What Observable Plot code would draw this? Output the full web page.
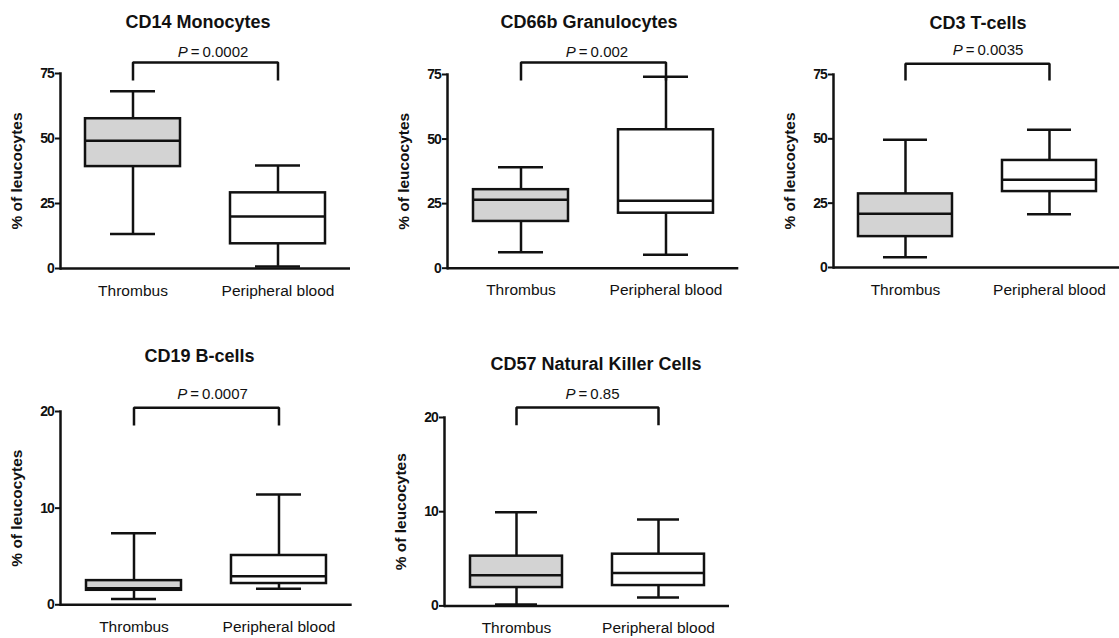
<!DOCTYPE html>
<html>
<head>
<meta charset="utf-8">
<script src="https://cdn.jsdelivr.net/npm/d3@7"></script>
<script src="https://cdn.jsdelivr.net/npm/@observablehq/plot@0.6"></script>
<style>
  html, body { margin: 0; padding: 0; background: #fff; overflow: hidden; }
  #chart { position: relative; width: 1119px; height: 638px; font-family: "Liberation Sans", Arial, Helvetica, sans-serif; color: #111; }
  .ttl { position: absolute; transform: translate(-50%, -50%); white-space: nowrap; font-weight: bold; font-size: 18px; line-height: 1; }
  .pv { position: absolute; transform: translate(-50%, -50%); white-space: nowrap; font-size: 15px; line-height: 1; }
  #chart svg { position: absolute; overflow: visible; }
  [aria-label="y-axis tick label"] text { letter-spacing: -1.2px; }
  [aria-label="y-axis tick"] { stroke-width: 2px; }
</style>
</head>
<body>
<div id="chart"></div>
<script>
// ---------- data ----------
const categories = ["Thrombus", "Peripheral blood"];
const panelTitles = ["CD14 Monocytes", "CD66b Granulocytes", "CD3 T-cells", "CD19 B-cells", "CD57 Natural Killer Cells"];
const pValues = ["0.0002", "0.002", "0.0035", "0.0007", "0.85"];
const yMaxes = [75, 75, 75, 20, 20];
const yTicks = [[0, 25, 50, 75], [0, 25, 50, 75], [0, 25, 50, 75], [0, 10, 20], [0, 10, 20]];
const yLabel = "% of leucocytes";
// box-plot statistics per panel: [Thrombus, Peripheral blood]
const mins    = [[13.3, 0.8], [6.2, 5.2],  [4.0, 20.7],  [0.6, 1.65], [0.15, 0.9]];
const q1s     = [[39.2, 9.5], [18.1, 21.3], [12.0, 29.5], [1.5, 2.2],  [1.95, 2.16]];
const medians = [[49.1, 20.0], [26.5, 26.1], [20.9, 34.1], [1.7, 2.96], [3.26, 3.5]];
const q3s     = [[57.6, 29.1], [30.4, 53.6], [28.6, 41.6], [2.5, 5.1],  [5.28, 5.49]];
const maxs    = [[68.2, 39.6], [39.1, 74.1], [49.6, 53.5], [7.4, 11.4], [9.95, 9.17]];
// significance bracket (in y units)
const bracketTop    = [79.2, 79.6, 79.2, 20.4, 21.06];
const bracketBottom = [72.3, 72.7, 72.7, 18.55, 19.18];
const boxFills = ["#d3d3d3", "#ffffff"];

// ---------- layout (pixels) ----------
const layout = [
  {axisX: 60,    xEnd: 350,  yTop: 73,    y0: 268,   title: [198, 22],  p: [213, 51]},
  {axisX: 446.7, xEnd: 738,  yTop: 74,    y0: 267.7, title: [589, 22],  p: [597, 51]},
  {axisX: 833.3, xEnd: 1122, yTop: 74,    y0: 267,   title: [978, 23],  p: [988, 49]},
  {axisX: 60,    xEnd: 351.7, yTop: 411,  y0: 604.3, title: [199.5, 356], p: [212.5, 393]},
  {axisX: 444,   xEnd: 729,  yTop: 417.3, y0: 605.7, title: [596, 364], p: [592.5, 393]}
];

const chart = document.getElementById("chart");
const mL = 60, mT = 40, mB = 40, mR = 5;

panelTitles.forEach((t, i) => {
  const L = layout[i];
  const rows = categories.map((c, j) => ({
    cat: c, min: mins[i][j], q1: q1s[i][j], med: medians[i][j], q3: q3s[i][j], max: maxs[i][j], fill: boxFills[j]
  }));
  const bracket = [
    {cat: categories[0], y: bracketBottom[i]},
    {cat: categories[0], y: bracketTop[i]},
    {cat: categories[1], y: bracketTop[i]},
    {cat: categories[1], y: bracketBottom[i]}
  ];
  const width = (L.xEnd - L.axisX) + mL + mR;
  const height = (L.y0 - L.yTop) + mT + mB;
  const svg = Plot.plot({
    width, height,
    marginLeft: mL, marginRight: mR, marginTop: mT, marginBottom: mB,
    style: {fontFamily: '"Liberation Sans", Arial, sans-serif', fontSize: "12px", color: "#111", background: "transparent"},
    x: {type: "band", domain: categories, padding: 0, axis: null},
    y: {domain: [0, yMaxes[i]], axis: null},
    marks: [
      Plot.axisY({ticks: yTicks[i], tickSize: 5, tickPadding: 2, tickFormat: d => String(d),
                  label: null, fontSize: 14, fontWeight: "bold"}),
      Plot.axisY({ticks: [], tickSize: 0, label: yLabel, labelAnchor: "center", labelArrow: "none",
                  labelOffset: 50, fontSize: 15.5, fontWeight: "bold"}),
      Plot.axisX({tickSize: 0, tickPadding: 16, label: null, fontSize: 15.5}),
      Plot.ruleX(rows, {x: "cat", y1: "min", y2: "max", stroke: "#111", strokeWidth: 2.5}),
      Plot.tickY(rows, {x: "cat", y: "min", insetLeft: 50, insetRight: 50, stroke: "#111", strokeWidth: 2.5}),
      Plot.tickY(rows, {x: "cat", y: "max", insetLeft: 50, insetRight: 50, stroke: "#111", strokeWidth: 2.5}),
      Plot.barY(rows, {x: "cat", y1: "q1", y2: "q3", fill: "fill", stroke: "#111", strokeWidth: 2.5, insetLeft: 25, insetRight: 25}),
      Plot.tickY(rows, {x: "cat", y: "med", insetLeft: 25, insetRight: 25, stroke: "#111", strokeWidth: 2.5}),
      Plot.line(bracket, {x: "cat", y: "y", stroke: "#111", strokeWidth: 2.5, strokeLinejoin: "miter", strokeLinecap: "butt"}),
      Plot.frame({anchor: "left", stroke: "#111", strokeWidth: 2.5}),
      Plot.ruleY([0], {stroke: "#111", strokeWidth: 2.5})
    ]
  });
  svg.style.left = (L.axisX - mL) + "px";
  svg.style.top = (L.yTop - mT) + "px";
  chart.appendChild(svg);

  const td = document.createElement("div");
  td.className = "ttl";
  td.textContent = t;
  td.style.left = L.title[0] + "px";
  td.style.top = L.title[1] + "px";
  chart.appendChild(td);

  const pd = document.createElement("div");
  pd.className = "pv";
  pd.innerHTML = "<i>P</i>\u2009=\u2009" + pValues[i];
  pd.style.left = L.p[0] + "px";
  pd.style.top = L.p[1] + "px";
  chart.appendChild(pd);
});
</script>
</body>
</html>
